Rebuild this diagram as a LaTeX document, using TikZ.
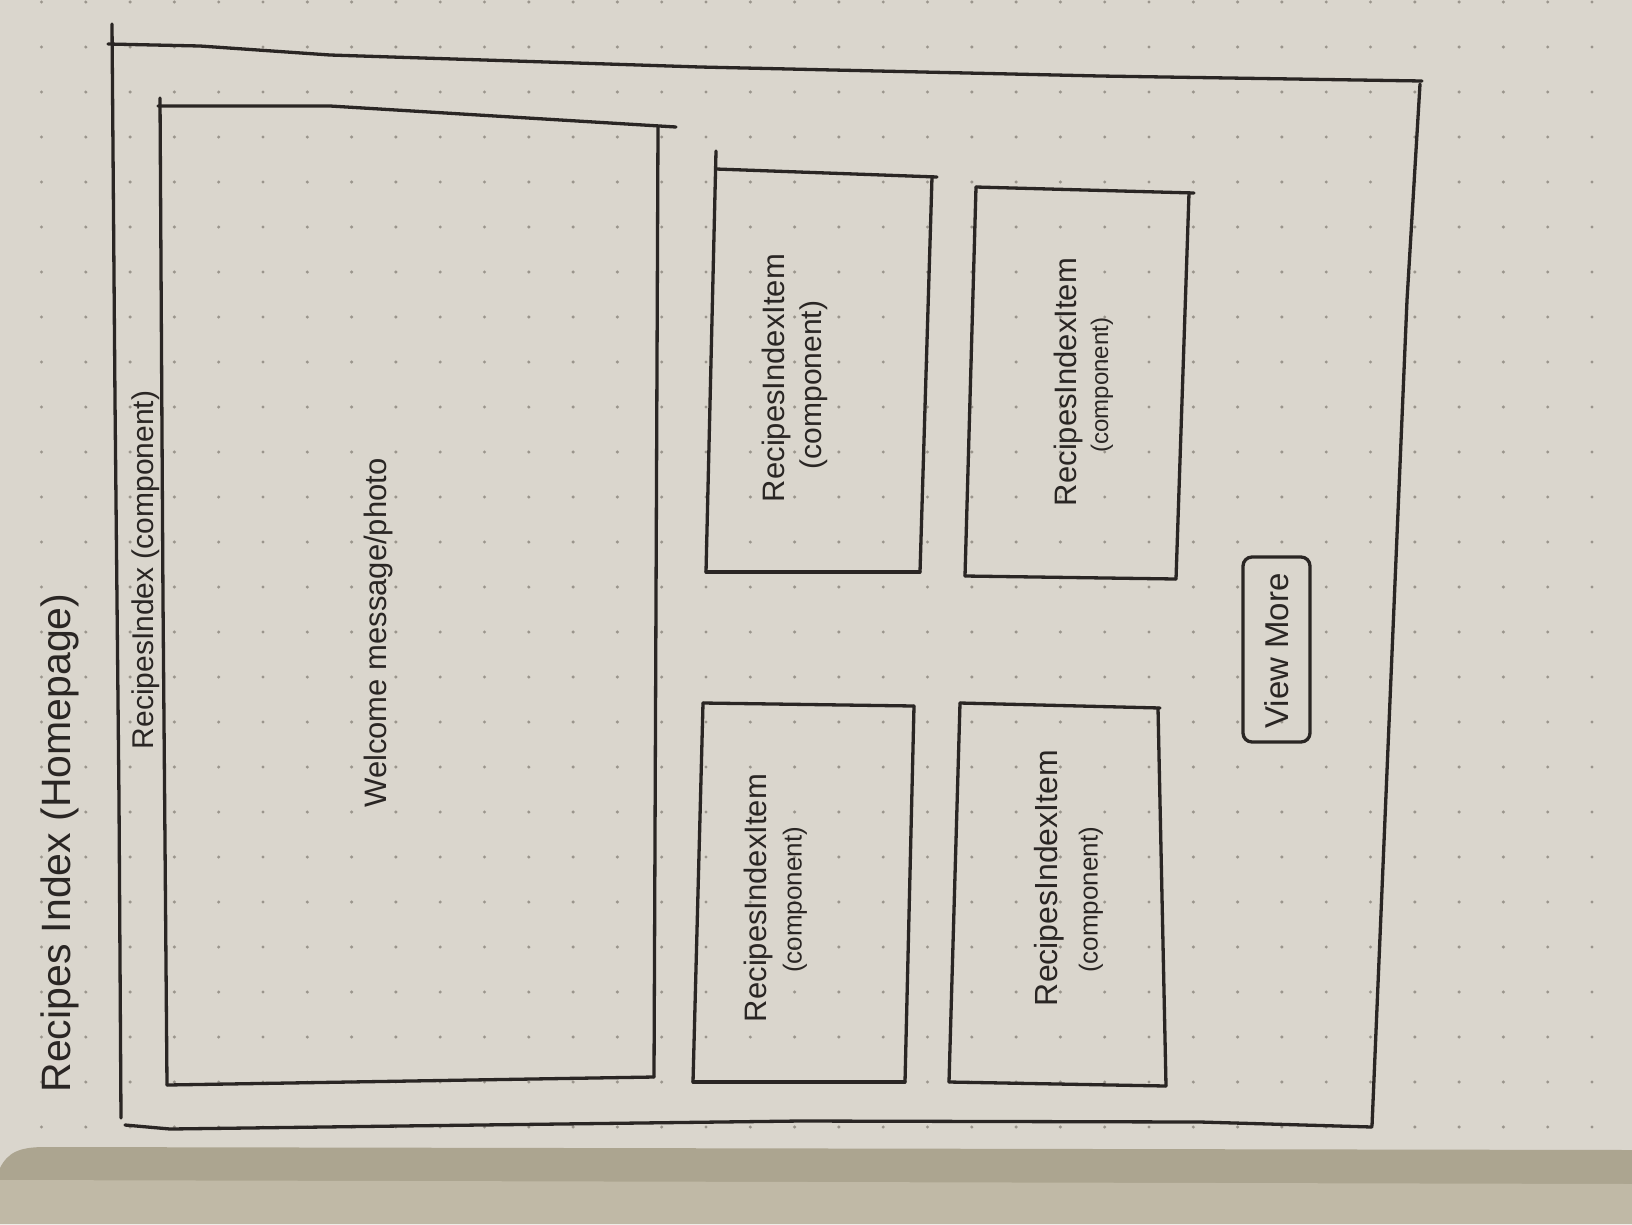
\documentclass[tikz,border=0pt]{standalone}
\usepackage{fontspec}
\setmainfont{Liberation Sans}
\definecolor{paper}{HTML}{DAD6CD}
\definecolor{inkc}{HTML}{2A2624}
\definecolor{dotc}{HTML}{9A958C}
\definecolor{edgec}{HTML}{ACA590}
\definecolor{lowerc}{HTML}{C0B9A6}
\begin{document}
\begin{tikzpicture}[x=1pt,y=-1pt,
  ink/.style={draw=inkc,line width=3.3pt,line join=round,line cap=round},
  lbl/.style={text=inkc,rotate=90,inner sep=0pt,anchor=center},
  btn/.style={draw=inkc,line width=3.3pt,rounded corners=9pt}]
\useasboundingbox (0,0) rectangle (1632,1224);
\fill[paper] (0,0) rectangle (1632,1224);
% dot grid
\foreach \i in {0,...,36}{
  \foreach \j in {0,...,25}{
    \fill[dotc] ({1592-44.3*\i},{2+45*\j}) circle (1.7);
  }
}
% lower pages
\fill[edgec] (0,1168) .. controls (8,1152) and (20,1147) .. (45,1147) -- (1632,1150) -- (1632,1224) -- (0,1224) -- cycle;
\fill[lowerc] (0,1180) -- (1632,1184) -- (1632,1224) -- (0,1224) -- cycle;

% outer frame (RecipesIndex component)
\draw[ink] (108,44) -- (200,46) -- (330,55) -- (700,67) -- (1100,76) -- (1422,81);
\draw[ink] (1420,84) -- (1407,300) -- (1390,700) -- (1372,1126);
\draw[ink] (125,1125) -- (170,1129) -- (400,1126) -- (800,1121) -- (1200,1122) -- (1372,1127);
\draw[ink] (112,24) -- (115,400) -- (119,800) -- (121,1118);

% welcome box
\draw[ink] (158,106) -- (330,106) -- (676,127);
\draw[ink] (658,127) -- (656,600) -- (654,1077);
\draw[ink] (167,1085) -- (654,1077);
\draw[ink] (160,98) -- (163,600) -- (167,1085);

% item top-left
\draw[ink] (716,169) -- (937,177);
\draw[ink] (716,151) -- (706,572);
\draw[ink] (706,572) -- (920,572);
\draw[ink] (932,177) -- (920,572);
% item top-right
\draw[ink] (976,187) -- (1194,193);
\draw[ink] (976,187) -- (965,576);
\draw[ink] (965,576) -- (1176,579);
\draw[ink] (1189,193) -- (1176,579);
% item bottom-left
\draw[ink] (703,703) -- (914,706);
\draw[ink] (703,703) -- (693,1082);
\draw[ink] (693,1082) -- (905,1082);
\draw[ink] (914,706) -- (905,1082);
% item bottom-right
\draw[ink] (960,703) -- (1160,708);
\draw[ink] (960,703) -- (949,1082);
\draw[ink] (949,1082) -- (1166,1086);
\draw[ink] (1158,708) -- (1166,1086);

% view more button
\draw[btn] (1243,557) rectangle (1310,742);

% texts
\node[lbl,font=\fontsize{41}{48}\selectfont] (title) at (60,843) {Recipes Index (Homepage)};
\node[lbl,font=\fontsize{30}{36}\selectfont] (idx) at (146,570) {RecipesIndex (component)};
\node[lbl,font=\fontsize{31}{36}\selectfont] (welcome) at (378,633) {Welcome message/photo};

\node[lbl,font=\fontsize{31}{36}\selectfont] (tl1) at (776,378) {RecipesIndexItem};
\node[lbl,font=\fontsize{30}{36}\selectfont] (tl2) at (814,385) {(component)};
\node[lbl,font=\fontsize{31}{36}\selectfont] (tr1) at (1068,382) {RecipesIndexItem};
\node[lbl,font=\fontsize{24}{30}\selectfont] (tr2) at (1102,385) {(component)};
\node[lbl,font=\fontsize{31}{36}\selectfont] (bl1) at (758,898) {RecipesIndexItem};
\node[lbl,font=\fontsize{26}{30}\selectfont] (bl2) at (795,900) {(component)};
\node[lbl,font=\fontsize{32}{36}\selectfont] (br1) at (1049,878) {RecipesIndexItem};
\node[lbl,font=\fontsize{26}{30}\selectfont] (br2) at (1091,900) {(component)};

\node[lbl,font=\fontsize{33}{40}\selectfont] (view) at (1277,651) {View More};
\end{tikzpicture}
\end{document}
